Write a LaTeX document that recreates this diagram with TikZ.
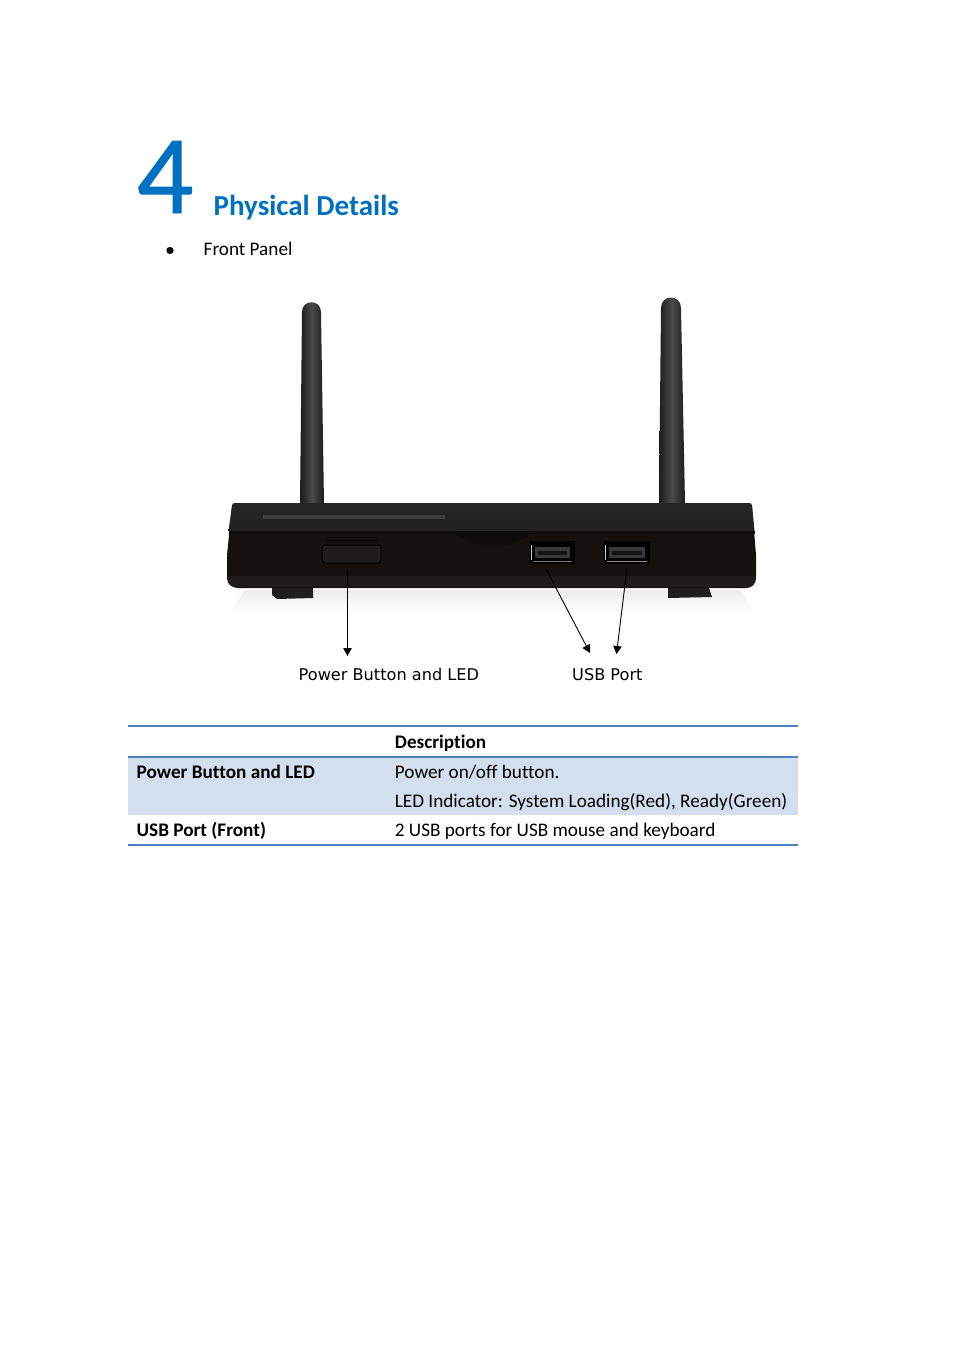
\documentclass[tikz,border=0pt]{standalone}
\usepackage{fontspec}
\setmainfont[Ligatures=NoCommon]{Carlito}
\newfontfamily\lblfont{DejaVu Sans}
\newfontfamily\numfont[FakeBold=0.8]{Carlito}
\usetikzlibrary{arrows.meta,shadings,fadings}
\definecolor{headblue}{HTML}{0070C0}
\definecolor{rule}{HTML}{4F81BD}
\definecolor{band}{HTML}{D3DFEE}
\definecolor{casetop}{HTML}{262626}
\definecolor{casefront}{HTML}{15110F}
\definecolor{casestrip}{HTML}{1E1C1B}
\definecolor{antedge}{HTML}{1C1C1C}
\definecolor{antmid}{HTML}{4A4A4A}
\tikzset{
  body/.style={anchor=base west,inner sep=0pt,font=\fontsize{19.2}{21}\selectfont},
  bold/.style={body,font=\fontsize{19.2}{21}\selectfont\bfseries},
  lbl/.style={anchor=base west,inner sep=0pt,font=\fontsize{16.15}{18}\lblfont},
  tablerule/.style={rule,line width=1.6pt},
  ptr/.style={black,line width=0.9pt,-{Triangle[length=8pt,width=8.5pt]}},
  ant/.style={left color=antedge,right color=antedge,middle color=antmid,draw=none},
}
\begin{document}
\begin{tikzpicture}[x=1pt,y=-1pt]
\useasboundingbox (0,0) rectangle (954,1350);
\fill[white] (0,0) rectangle (954,1350);
% heading
\node[anchor=base west,inner sep=0pt,text=headblue,font=\fontsize{112}{112}\numfont] (num) at (136.5,213) {4};
\node[anchor=base west,inner sep=0pt,text=headblue,font=\fontsize{29}{30}\selectfont\bfseries] (title) at (213.5,215) {Physical Details};
\fill[black] (170,250.5) circle (3.6);
\node[body] (front) at (203.5,255.5) {Front Panel};
% floor reflection
\fill[black!7,path fading=south] (245,590) -- (740,590) -- (755,612) -- (230,612) -- cycle;
% antennas
\path[ant] (300,504) -- (302,312) .. controls (302,299) and (321,299) .. (321,312) -- (324,504) -- cycle;
\path[ant] (659,503) -- (661,308) .. controls (661,294) and (681,294) .. (681,308) -- (685,503) -- cycle;
% feet
\fill[black!88] (272,585) -- (313,585) -- (313,598) -- (277,599) -- (272,595) -- cycle;
\fill[black!88] (668,585) -- (708,585) -- (712,597) -- (668,598) -- cycle;
% case
\fill[casefront] (227,578) -- (227,555) -- (232,506) .. controls (232,504) and (233,503) .. (236,503) -- (748,503) .. controls (751,503) and (752,504) .. (752,506) -- (756,555) -- (756,578) .. controls (756,584) and (752,588) .. (746,588) -- (238,588) .. controls (232,588) and (227,584) .. (227,578) -- cycle;
\shade[top color=casetop,bottom color=casetop!85!black] (228.5,531) -- (232,506) .. controls (232,504) and (233,503) .. (236,503) -- (748,503) .. controls (751,503) and (752,504) .. (752,506) -- (754.5,531) -- cycle;
\fill[black!95] (228.5,531) rectangle (754.5,534);
\fill[black!76] (263,515) rectangle (445,519);
\fill[black!95,path fading=south] (455,534) .. controls (480,552) and (510,550) .. (530,534) -- cycle;
\fill[casestrip] (228,576) -- (755,576) -- (755,582) .. controls (754,585) and (750,587) .. (746,587) -- (238,587) .. controls (233,587) and (229,585) .. (228,582) -- cycle;
% power button
\draw[black,line width=1pt,rounded corners=3pt,fill=casestrip] (322,545) rectangle (381,563);
\draw[black,line width=1.4pt] (327,540.5) -- (377,540.5);
% usb ports
\fill[black] (530,541) rectangle (575,564);
\fill[black] (604,541) rectangle (650,564);
\fill[black!78] (535,547) rectangle (570,558);
\fill[black!78] (609,547) rectangle (645,558);
\fill[black!92] (538,551) rectangle (567,555);
\fill[black!92] (612,551) rectangle (642,555);
\draw[black!20,line width=1.6pt] (531.5,545) -- (531.5,560);
\draw[black!20,line width=1.6pt] (605.5,545) -- (605.5,560);
\draw[black!55,line width=0.8pt] (533,561) -- (572,561);
\draw[black!45,line width=0.8pt] (607,561) -- (647,561);
% pointers
\coordinate (pwrS) at (347.5,569);
\coordinate (pwrE) at (347.5,656);
\coordinate (usbAS) at (546,569);
\coordinate (usbAE) at (590,653);
\coordinate (usbBS) at (627,568);
\coordinate (usbBE) at (616.5,654);
\draw[ptr] (pwrS) -- (pwrE);
\draw[ptr] (usbAS) -- (usbAE);
\draw[ptr] (usbBS) -- (usbBE);
\node[lbl] (lblPwr) at (298.5,680) {Power Button and LED};
\node[lbl] (lblUsb) at (572,680) {USB Port};
% table
\fill[band] (128,757) rectangle (798,815);
\draw[tablerule] (128,726) -- (798,726);
\draw[tablerule] (128,757) -- (798,757);
\draw[tablerule] (128,845) -- (798,845);
\node[bold] (hd) at (394.7,748) {Description};
\node[bold] (r1) at (136.5,778) {Power Button and LED};
\node[body] (d1) at (394.7,778) {Power on/off button.};
\node[body] (d2) at (394.7,807) {LED Indicator: System Loading(Red), Ready(Green)};
\node[bold] (r2) at (136.5,836) {USB Port (Front)};
\node[body] (d3) at (394.7,836) {2 USB ports for USB mouse and keyboard};
\end{tikzpicture}
\end{document}
